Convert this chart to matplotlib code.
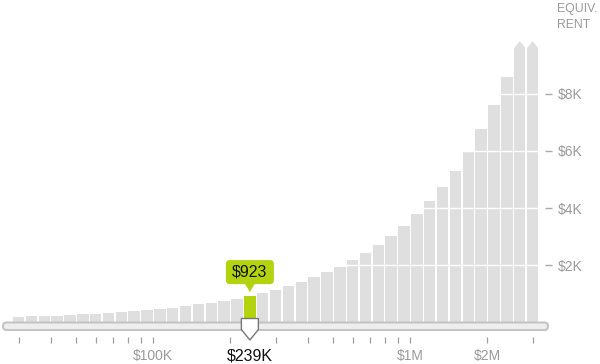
import matplotlib
matplotlib.use('Agg')
import matplotlib.pyplot as plt
from matplotlib.patches import FancyBboxPatch, Polygon

plt.rcParams['font.family'] = ['Liberation Sans', 'DejaVu Sans']

# home price bins (dollars) and the equivalent monthly rent
prices = [30000, 33660, 37770, 42380, 47550, 53350, 59860, 67160, 75360, 84550,
          94870, 106400, 119400, 134000, 150300, 168700, 189300, 212400, 238300, 267400,
          300000, 336600, 377700, 423800, 475500, 533500, 598600, 671600, 753600, 845500,
          948700, 1064000, 1194000, 1340000, 1503000, 1687000, 1893000, 2124000, 2383000, 2674000,
          3000000]
rent = [203, 217, 227, 238, 262, 287, 308, 332, 367, 395,
        427, 472, 517, 577, 636, 692, 762, 832, 923, 1031,
        1147, 1276, 1416, 1580, 1755, 1951, 2185, 2430, 2699, 3024,
        3385, 3794, 4238, 4738, 5308, 5962, 6755, 7615, 8594, 9700,
        10900]

selected_price = 238300
selected_label = '$239K'
selected_rent = '$923'
cap = 9600

xticks = [30000, 40000, 50000, 60000, 70000, 80000, 90000, 100000,
          200000, 300000, 400000, 500000, 600000, 700000, 800000, 900000,
          1000000, 2000000, 3000000]
xtick_text = {100000: '$100K', 1000000: '$1M', 2000000: '$2M'}
yticks = [2000, 4000, 6000, 8000]
ytick_labels = ['$2K', '$4K', '$6K', '$8K']

bar_gray = '#dfdfdf'
green = '#b3d30f'

fig = plt.figure(figsize=(6, 3.64), dpi=100)
ax = fig.add_axes([0, 41.5 / 364, 545 / 600, 322.5 / 364])
ax.set_xscale('log')
ax.set_xlim(25400, 3353000)
ax.set_ylim(0, 11276)

# bars: equal width on the log axis
half = 10 ** 0.0223
lefts = [p / half for p in prices]
widths = [p * half - p / half for p in prices]
heights = [min(v, cap) for v in rent]
colors = [green if p == selected_price else bar_gray for p in prices]
ax.bar(lefts, heights, width=widths, align='edge', color=colors, zorder=1)

# capped bars get a pointed top
for p, v in zip(prices, rent):
    if v > cap:
        ax.add_patch(Polygon([(p / half, cap - 10), (p, cap + 240), (p * half, cap - 10)],
                             closed=True, facecolor=bar_gray, edgecolor='none', zorder=1))

ax.set_axisbelow(False)
ax.yaxis.grid(True, color='white', linewidth=1)
ax.xaxis.grid(False)
for s in ax.spines.values():
    s.set_visible(False)
ax.patch.set_visible(False)

ax.yaxis.tick_right()
ax.set_yticks(yticks)
ax.set_yticklabels(ytick_labels)
ax.tick_params(axis='y', length=5, width=1, color='#aaaaaa', pad=4.3,
               labelsize=10, labelcolor='#9a9a9a', direction='out')

ax.spines['bottom'].set_position(('outward', 10.4))
ax.set_xticks(xticks)
ax.set_xticklabels([xtick_text.get(t, '') for t in xticks])
ax.xaxis.set_minor_locator(matplotlib.ticker.NullLocator())
ax.tick_params(axis='x', length=4, width=0.9, color='#9f9f9f', pad=4.5,
               labelsize=10, labelcolor='#9a9a9a', direction='out')

# overlay in pixel coordinates for the slider and tooltip
ov = fig.add_axes([0, 0, 1, 1], zorder=5)
ov.set_xlim(0, 600)
ov.set_ylim(364, 0)
ov.axis('off')
ov.patch.set_visible(False)

ov.add_patch(FancyBboxPatch((3, 322.5), 545, 7.5,
                            boxstyle='round,pad=0,rounding_size=3.7',
                            facecolor='#eeeeee', edgecolor='#c4c4c4', linewidth=1.5))

hx, hy = ax.transData.transform((selected_price, 923))
hy = 364 - hy
ov.add_patch(Polygon([(hx - 8.5, 318.5), (hx + 8.5, 318.5), (hx + 8.5, 329.5),
                      (hx, 340), (hx - 8.5, 329.5)],
                     closed=True, facecolor='white', edgecolor='#777777', linewidth=1))
ov.text(hx, 356, selected_label, ha='center', va='center', fontsize=11.5, color='#111111')

box_bottom = hy - 12
ov.add_patch(FancyBboxPatch((hx - 24, box_bottom - 24), 48, 24,
                            boxstyle='round,pad=0,rounding_size=4',
                            facecolor=green, edgecolor='none'))
ov.add_patch(Polygon([(hx - 5, box_bottom - 0.5), (hx + 5, box_bottom - 0.5), (hx, box_bottom + 8)],
                     closed=True, facecolor=green, edgecolor='none'))
ov.text(hx, box_bottom - 12, selected_rent, ha='center', va='center', fontsize=11.5, color='#111111')

ov.text(557, 3, 'EQUIV.\nRENT', ha='left', va='top', fontsize=8.8, color='#9a9a9a',
        linespacing=1.45)

fig.savefig('out.png', dpi=100)
